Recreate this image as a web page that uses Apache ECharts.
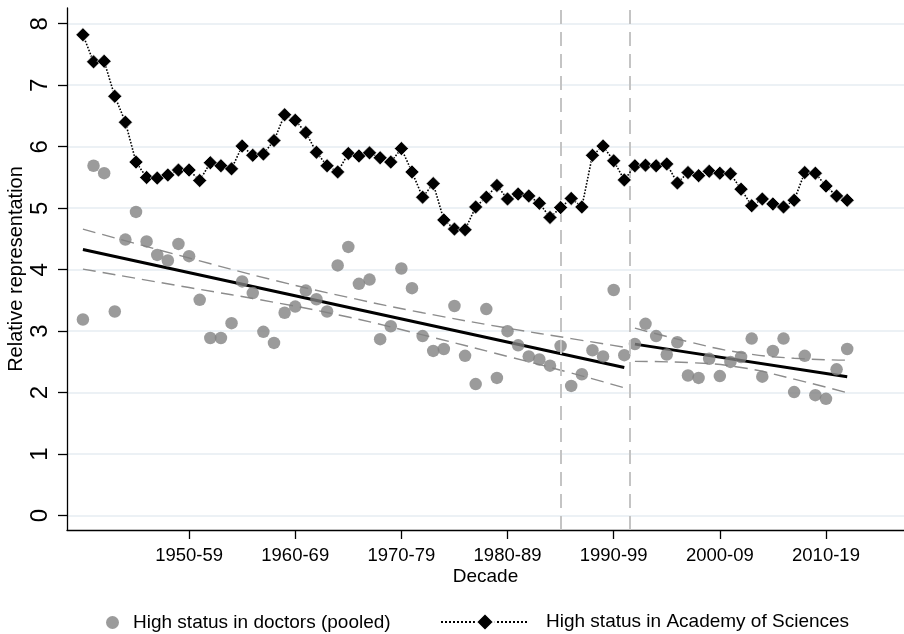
<!DOCTYPE html>
<html>
<head>
<meta charset="utf-8">
<title>Relative representation by decade</title>
<script src="https://cdn.jsdelivr.net/npm/echarts@6/dist/echarts.min.js"></script>
<style>
  html, body { margin: 0; padding: 0; background: #fff; }
  #chart { width: 904px; height: 634px; }
</style>
</head>
<body>
<div id="chart"></div>
<script>
// years of observation
var years = [1940, 1941, 1942, 1943, 1944, 1945, 1946, 1947, 1948, 1949,
    1950, 1951, 1952, 1953, 1954, 1955, 1956, 1957, 1958, 1959,
    1960, 1961, 1962, 1963, 1964, 1965, 1966, 1967, 1968, 1969,
    1970, 1971, 1972, 1973, 1974, 1975, 1976, 1977, 1978, 1979,
    1980, 1981, 1982, 1983, 1984, 1985, 1986, 1987, 1988, 1989,
    1990, 1991, 1992, 1993, 1994, 1995, 1996, 1997, 1998, 1999,
    2000, 2001, 2002, 2003, 2004, 2005, 2006, 2007, 2008, 2009,
    2010, 2011, 2012];

// high status in doctors (pooled)
var doctors = [3.19, 5.69, 5.57, 3.32, 4.49, 4.94, 4.46, 4.24, 4.15, 4.42,
    4.22, 3.51, 2.89, 2.89, 3.13, 3.81, 3.62, 2.99, 2.81, 3.30,
    3.40, 3.66, 3.52, 3.32, 4.07, 4.37, 3.77, 3.84, 2.87, 3.08,
    4.02, 3.70, 2.92, 2.68, 2.71, 3.41, 2.60, 2.14, 3.36, 2.24,
    3.00, 2.77, 2.59, 2.54, 2.44, 2.76, 2.11, 2.30, 2.69, 2.59,
    3.67, 2.61, 2.79, 3.12, 2.92, 2.62, 2.82, 2.28, 2.24, 2.55,
    2.27, 2.50, 2.58, 2.88, 2.26, 2.68, 2.88, 2.01, 2.60, 1.96,
    1.90, 2.38, 2.71];

// high status in Academy of Sciences
var academy = [7.82, 7.38, 7.39, 6.82, 6.40, 5.75, 5.50, 5.49, 5.54, 5.62,
    5.62, 5.45, 5.74, 5.69, 5.64, 6.01, 5.86, 5.88, 6.10, 6.52,
    6.43, 6.23, 5.91, 5.69, 5.59, 5.89, 5.85, 5.90, 5.82, 5.75,
    5.97, 5.59, 5.18, 5.40, 4.81, 4.66, 4.65, 5.02, 5.18, 5.37,
    5.15, 5.23, 5.20, 5.08, 4.85, 5.01, 5.16, 5.02, 5.86, 6.01,
    5.77, 5.46, 5.69, 5.70, 5.69, 5.72, 5.41, 5.58, 5.53, 5.60,
    5.57, 5.56, 5.31, 5.04, 5.15, 5.07, 5.02, 5.13, 5.58, 5.57,
    5.36, 5.20, 5.13];

// fitted line and confidence band, period 1 (1940-1991)
var fit1Years = [1940, 1991];
var fit1 = [4.33, 2.41];
var ci1Years = [1940, 1950, 1958, 1965, 1972, 1980, 1986, 1991];
var ci1Upper = [4.66, 4.19, 3.83, 3.55, 3.30, 3.05, 2.88, 2.74];
var ci1Lower = [4.01, 3.71, 3.47, 3.23, 2.94, 2.59, 2.32, 2.08];

// fitted line and confidence band, period 2 (1992-2012)
var fit2Years = [1992, 2012];
var fit2 = [2.79, 2.26];
var ci2Years = [1992, 1997, 2002, 2007, 2012];
var ci2Upper = [3.05, 2.83, 2.65, 2.56, 2.53];
var ci2Lower = [2.51, 2.49, 2.41, 2.22, 2.00];

// vertical reference lines
var refLines = [1985, 1991.5];

// axis ticks
var xTicks = [1950, 1960, 1970, 1980, 1990, 2000, 2010];
var xTickLabels = ['1950-59', '1960-69', '1970-79', '1980-89', '1990-99', '2000-09', '2010-19'];
var yTicks = [0, 1, 2, 3, 4, 5, 6, 7, 8];

var FONT = 'Liberation Sans, Arial, Helvetica, sans-serif';

function pairs(xs, ys) {
    return xs.map(function(x, i) {
        return [x, ys[i]];
    });
}

var ciStyle = { color: '#8c8c8c', width: 1.4, type: [13, 7] };
var fitStyle = { color: '#000', width: 3 };

var myChart = echarts.init(document.getElementById('chart'));

var option = {
    animation: false,
    backgroundColor: '#fff',
    textStyle: { fontFamily: FONT },
    grid: {
        left: 67,
        right: 0,
        top: 8,
        bottom: 104,
        containLabel: false,
        outerBoundsMode: 'none'
    },
    legend: [{
        data: ['High status in doctors (pooled)'],
        left: 106,
        top: 613,
        padding: 0,
        itemWidth: 13,
        itemHeight: 13,
        textStyle: { fontSize: 19, color: '#000', fontFamily: FONT, padding: [0, 0, 0, 9] }
    }, {
        data: ['High status in Academy of Sciences'],
        left: 440,
        top: 612,
        padding: 0,
        itemWidth: 88,
        itemHeight: 22.5,
        textStyle: { fontSize: 19, color: '#000', fontFamily: FONT, padding: [0, 0, 0, 12] }
    }],
    xAxis: {
        type: 'value',
        min: 1938.5,
        max: 2017.35,
        name: 'Decade',
        nameLocation: 'middle',
        nameGap: 37,
        nameMoveOverlap: false,
        nameTextStyle: { fontSize: 19, color: '#000', fontFamily: FONT },
        axisLine: { onZero: false, lineStyle: { color: '#000', width: 1.3 } },
        axisTick: { customValues: xTicks, length: 9, lineStyle: { color: '#000', width: 1.3 } },
        axisLabel: {
            customValues: xTicks,
            margin: 16,
            fontSize: 18.5,
            color: '#000',
            fontFamily: FONT,
            formatter: function(v) {
                return xTickLabels[xTicks.indexOf(v)];
            }
        },
        splitLine: { show: false }
    },
    yAxis: {
        type: 'value',
        min: -0.233,
        max: 8.256,
        name: 'Relative representation',
        nameLocation: 'middle',
        nameRotate: 90,
        nameGap: 41,
        nameMoveOverlap: false,
        nameTextStyle: { fontSize: 20, color: '#000', fontFamily: FONT },
        axisLine: { show: true, onZero: false, lineStyle: { color: '#000', width: 1.3 } },
        axisTick: { show: true, customValues: yTicks, length: 9, lineStyle: { color: '#000', width: 1.3 } },
        axisLabel: {
            customValues: yTicks,
            rotate: 90,
            margin: 15,
            fontSize: 24,
            color: '#000',
            fontFamily: FONT
        },
        splitLine: { show: true, lineStyle: { color: '#e6edf2', width: 1.6 } }
    },
    series: [{
        name: 'ci1Upper',
        type: 'line',
        data: pairs(ci1Years, ci1Upper),
        smooth: true,
        symbol: 'none',
        lineStyle: ciStyle,
        z: 2,
        silent: true
    }, {
        name: 'ci1Lower',
        type: 'line',
        data: pairs(ci1Years, ci1Lower),
        smooth: true,
        symbol: 'none',
        lineStyle: ciStyle,
        z: 2,
        silent: true
    }, {
        name: 'ci2Upper',
        type: 'line',
        data: pairs(ci2Years, ci2Upper),
        smooth: true,
        symbol: 'none',
        lineStyle: ciStyle,
        z: 2,
        silent: true
    }, {
        name: 'ci2Lower',
        type: 'line',
        data: pairs(ci2Years, ci2Lower),
        smooth: true,
        symbol: 'none',
        lineStyle: ciStyle,
        z: 2,
        silent: true
    }, {
        name: 'fit1',
        type: 'line',
        data: pairs(fit1Years, fit1),
        symbol: 'none',
        lineStyle: fitStyle,
        z: 3,
        silent: true
    }, {
        name: 'fit2',
        type: 'line',
        data: pairs(fit2Years, fit2),
        symbol: 'none',
        lineStyle: fitStyle,
        z: 3,
        silent: true
    }, {
        name: 'High status in doctors (pooled)',
        type: 'scatter',
        data: pairs(years, doctors),
        symbol: 'circle',
        symbolSize: 12.5,
        itemStyle: { color: '#828282' },
        z: 4,
        markLine: {
            silent: true,
            symbol: ['none', 'none'],
            label: { show: false },
            lineStyle: { color: '#c4c4c4', width: 2, type: [14, 8] },
            data: refLines.map(function(v) {
                return { xAxis: v };
            })
        }
    }, {
        name: 'High status in Academy of Sciences',
        type: 'line',
        data: pairs(years, academy),
        symbol: 'diamond',
        symbolSize: 14,
        itemStyle: { color: '#000', borderColor: '#fff', borderWidth: 0.6 },
        lineStyle: { color: '#000', width: 1.6, type: 'dotted' },
        z: 5
    }]
};

myChart.setOption(option);
</script>
</body>
</html>
